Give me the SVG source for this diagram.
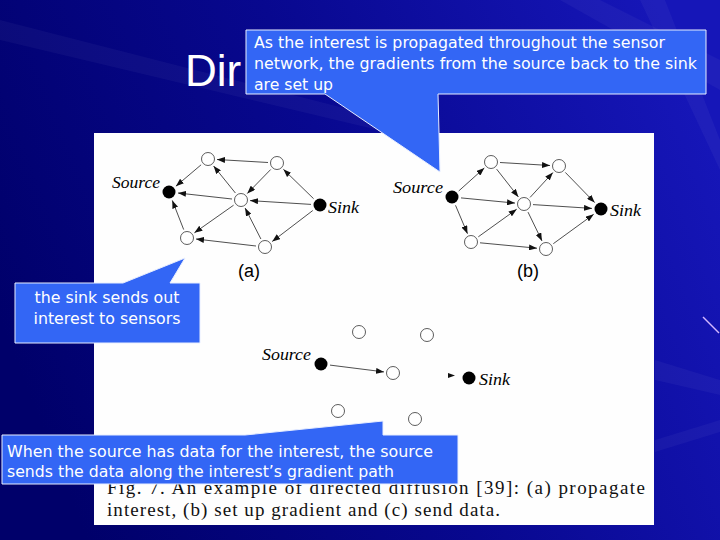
<svg xmlns="http://www.w3.org/2000/svg" width="720" height="540" viewBox="0 0 720 540">
<defs>
<linearGradient id="bg" x1="0" y1="0.6" x2="1" y2="0.3">
<stop offset="0" stop-color="#00006a"/>
<stop offset="0.5" stop-color="#08088f"/>
<stop offset="1" stop-color="#1616b8"/>
</linearGradient>
<marker id="ah" markerUnits="userSpaceOnUse" markerWidth="8" markerHeight="6" refX="8" refY="3" orient="auto">
<path d="M0,0 L8,3 L0,6 Z" fill="#111"/>
</marker>
<style>
.e{stroke:#222;stroke-width:0.8;fill:none;marker-end:url(#ah)}
.n{fill:#fff;stroke:#333;stroke-width:0.8}
.f{fill:#000}
.lbl{font-family:"Liberation Serif",serif;font-style:italic;font-size:17px;fill:#000}
.sub{font-family:"Liberation Sans",Arial,sans-serif;font-size:18px;fill:#000}
.cap{font-family:"Liberation Serif",serif;font-size:19px;fill:#111}
.co{fill:#3366f5;stroke:#e8eeff;stroke-width:1}
.ct{font-family:"DejaVu Sans","Liberation Sans",sans-serif;font-size:15px;fill:#fff}
.streak{fill:#ffffff;opacity:0.04}
</style>
</defs>
<rect width="720" height="540" fill="url(#bg)"/>
<g id="streaks">
<polygon class="streak" points="720,60 720,90 560,0 600,0"/>
<polygon class="streak" points="720,140 720,170 640,0 665,0"/>
<polygon class="streak" points="0,20 0,40 420,140 430,130"/>
<polygon class="streak" points="655,360 720,380 720,395 655,380"/>
<polygon class="streak" points="655,440 720,420 720,432 655,452"/>
</g>
<line x1="703" y1="317" x2="719" y2="333" stroke="#d4b8ff" stroke-width="1.5"/>
<text x="185" y="86" font-family="Liberation Sans,Arial,sans-serif" font-size="44" fill="#fff">Dir</text>
<rect id="figure" x="94" y="133" width="560" height="392" fill="#fefefe"/>

<g id="connectors">
<line class="e" x1="268" y1="162.5" x2="217" y2="159.5"/>
<line class="e" x1="201.1" y1="164.8" x2="175.9" y2="186.2"/>
<line class="e" x1="235.4" y1="193" x2="213.6" y2="166"/>
<line class="e" x1="270.7" y1="169.5" x2="247.3" y2="193.5"/>
<line class="e" x1="313.6" y1="198.7" x2="283.4" y2="169.3"/>
<line class="e" x1="311" y1="204.4" x2="250" y2="200.6"/>
<line class="e" x1="232" y1="199" x2="178" y2="193"/>
<line class="e" x1="233.6" y1="205.2" x2="194.4" y2="232.8"/>
<line class="e" x1="183.7" y1="229.6" x2="172.3" y2="200.4"/>
<line class="e" x1="256" y1="246" x2="196" y2="239"/>
<line class="e" x1="260.9" y1="239" x2="245.1" y2="208"/>
<line class="e" x1="312.8" y1="210.5" x2="272.2" y2="241.5"/>
<line class="e" x1="458.7" y1="191" x2="484.3" y2="168"/>
<line class="e" x1="461" y1="197.9" x2="515" y2="203.1"/>
<line class="e" x1="455.5" y1="205.3" x2="467.5" y2="233.7"/>
<line class="e" x1="500" y1="162.5" x2="550" y2="165.5"/>
<line class="e" x1="496.6" y1="169.1" x2="518.4" y2="196.9"/>
<line class="e" x1="565.3" y1="172.4" x2="594.7" y2="202.6"/>
<line class="e" x1="530.1" y1="197.4" x2="552.9" y2="172.6"/>
<line class="e" x1="533" y1="204.6" x2="592" y2="208.4"/>
<line class="e" x1="528" y1="212.1" x2="542" y2="240.9"/>
<line class="e" x1="478.3" y1="236.8" x2="516.7" y2="209.2"/>
<line class="e" x1="480" y1="242.8" x2="537" y2="248.2"/>
<line class="e" x1="553.3" y1="243.7" x2="593.7" y2="214.3"/>
<line class="e" x1="330" y1="365.1" x2="384" y2="371.9"/>
<path d="M455,375.5 L448,373 L448,378 Z" fill="#111"/>
</g>

<g id="graph-a">
<circle class="n" cx="208" cy="159" r="6.5"/>
<circle class="n" cx="277" cy="163" r="6.5"/>
<circle class="f" cx="169" cy="192" r="6.5"/>
<circle class="n" cx="241" cy="200" r="6.5"/>
<circle class="f" cx="320" cy="205" r="6.5"/>
<circle class="n" cx="187" cy="238" r="6.5"/>
<circle class="n" cx="265" cy="247" r="6.5"/>
<text class="lbl" x="112" y="188" textLength="48" lengthAdjust="spacingAndGlyphs">Source</text>
<text class="lbl" x="328" y="213" textLength="31" lengthAdjust="spacingAndGlyphs">Sink</text>
<text class="sub" x="249" y="277" text-anchor="middle">(a)</text>
</g>

<g id="graph-b">
<circle class="n" cx="491" cy="162" r="6.5"/>
<circle class="n" cx="559" cy="166" r="6.5"/>
<circle class="f" cx="452" cy="197" r="6.5"/>
<circle class="n" cx="524" cy="204" r="6.5"/>
<circle class="f" cx="601" cy="209" r="6.5"/>
<circle class="n" cx="471" cy="242" r="6.5"/>
<circle class="n" cx="546" cy="249" r="6.5"/>
<text class="lbl" x="393" y="193" textLength="50" lengthAdjust="spacingAndGlyphs">Source</text>
<text class="lbl" x="610" y="216" textLength="31" lengthAdjust="spacingAndGlyphs">Sink</text>
<text class="sub" x="528" y="277" text-anchor="middle">(b)</text>
</g>

<g id="graph-c">
<circle class="n" cx="359" cy="332" r="6.5"/>
<circle class="n" cx="427" cy="335" r="6.5"/>
<circle class="f" cx="321" cy="364" r="6.5"/>
<circle class="n" cx="393" cy="373" r="6.5"/>
<circle class="f" cx="469" cy="378" r="6.5"/>
<circle class="n" cx="338" cy="411" r="6.5"/>
<circle class="n" cx="415" cy="419" r="6.5"/>
<text class="lbl" x="262" y="360" textLength="49" lengthAdjust="spacingAndGlyphs">Source</text>
<text class="lbl" x="479" y="385" textLength="31" lengthAdjust="spacingAndGlyphs">Sink</text>
</g>

<g id="caption">
<text class="cap" x="107" y="494" textLength="538" lengthAdjust="spacing">Fig. 7. An example of directed diffusion [39]: (a) propagate</text>
<text class="cap" x="107" y="516" textLength="393" lengthAdjust="spacing">interest, (b) set up gradient and (c) send data.</text>
</g>

<g id="callout-top">
<path class="co" d="M246,30 H706 V94 H438 L440,172 L325,94 H246 Z"/>
<text class="ct" x="254" y="48" textLength="411" lengthAdjust="spacingAndGlyphs">As the interest is propagated throughout the sensor</text>
<text class="ct" x="254" y="69" textLength="443" lengthAdjust="spacingAndGlyphs">network, the gradients from the source back to the sink</text>
<text class="ct" x="254" y="90" textLength="79" lengthAdjust="spacingAndGlyphs">are set up</text>
</g>

<g id="callout-left">
<path class="co" d="M15,283 H123 L185,258 L170,283 H200 V343 H15 Z"/>
<text class="ct" x="107" y="303" text-anchor="middle" font-size="16" textLength="145" lengthAdjust="spacingAndGlyphs">the sink sends out</text>
<text class="ct" x="107" y="324" text-anchor="middle" font-size="16" textLength="147" lengthAdjust="spacingAndGlyphs">interest to sensors</text>
</g>

<g id="callout-bottom">
<path class="co" d="M2,435 H245 L383,421 V435 H458 V484 H2 Z"/>
<text class="ct" x="7" y="457" font-size="16" textLength="426" lengthAdjust="spacingAndGlyphs">When the source has data for the interest, the source</text>
<text class="ct" x="7" y="477" font-size="16" textLength="387" lengthAdjust="spacingAndGlyphs">sends the data along the interest’s gradient path</text>
</g>
</svg>
